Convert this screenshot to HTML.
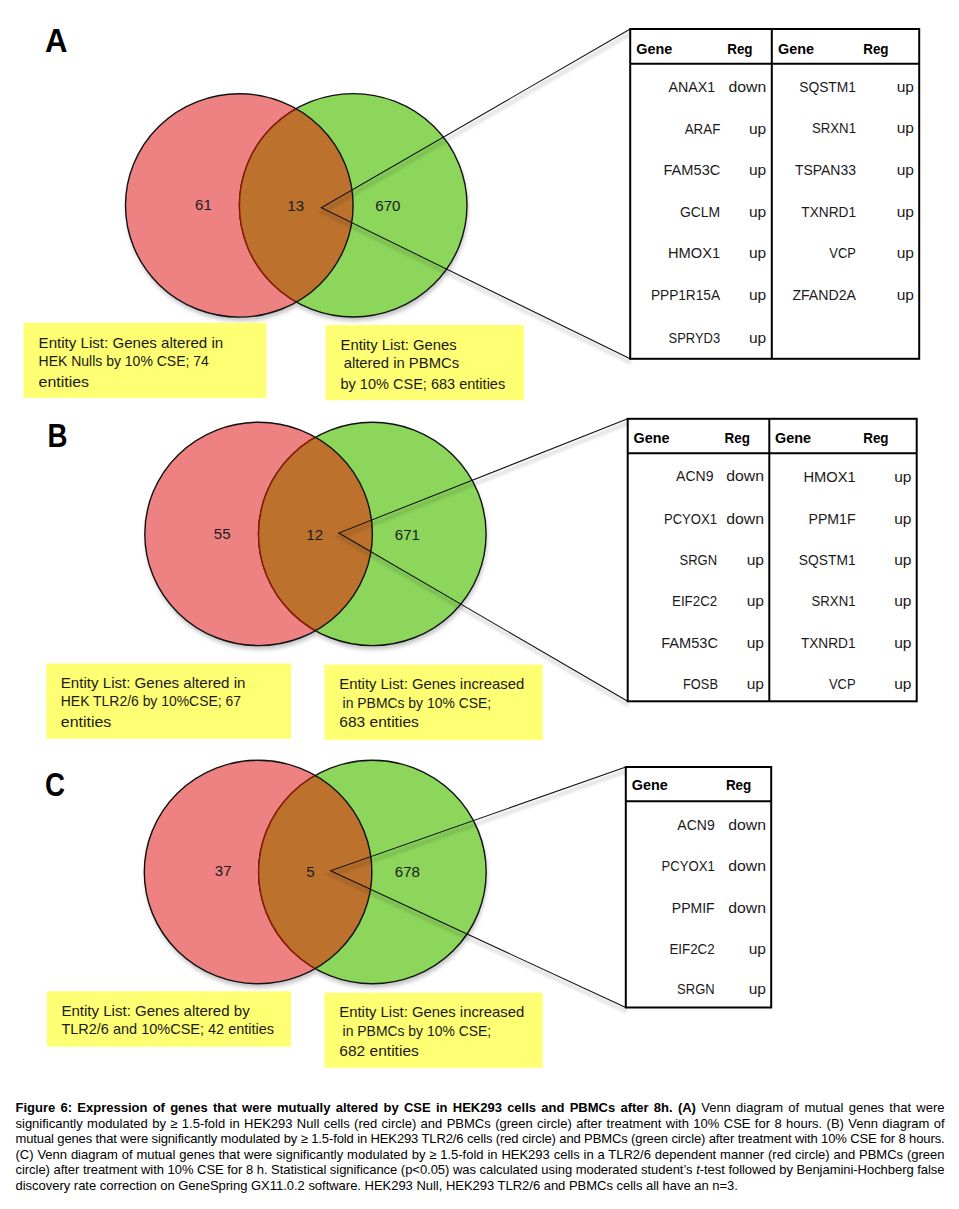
<!DOCTYPE html>
<html><head><meta charset="utf-8"><title>Figure 6</title>
<style>
html,body{margin:0;padding:0;background:#fff;width:959px;height:1209px;overflow:hidden;}
body{position:relative;font-family:'Liberation Sans', sans-serif;}
svg{position:absolute;left:0;top:0;}
svg text{font-family:'Liberation Sans', sans-serif;}
#cap{position:absolute;left:15.5px;top:1100px;width:929px;font-size:13px;line-height:15.6px;color:#000;}
#cap div{white-space:nowrap;}
#cap div.j{text-align:justify;text-align-last:justify;white-space:normal;height:15.6px;overflow:visible;}
</style></head><body>
<svg width="959" height="1209" viewBox="0 0 959 1209">
<defs>
<filter id="blur" x="-10%" y="-10%" width="120%" height="130%"><feGaussianBlur stdDeviation="2"/></filter>
<filter id="blur1" x="-10%" y="-10%" width="120%" height="130%"><feGaussianBlur stdDeviation="1.2"/></filter>
<clipPath id="cr0"><ellipse cx="239.3" cy="205.4" rx="113.8" ry="111.7"/></clipPath>
<clipPath id="cr1"><ellipse cx="258.6" cy="533.9" rx="113.8" ry="111.7"/></clipPath>
<clipPath id="cr2"><ellipse cx="258.1" cy="872.0" rx="113.8" ry="111.7"/></clipPath>
</defs>
<g filter="url(#blur)" opacity="0.5">
<ellipse cx="240.3" cy="209.4" rx="113.8" ry="111.7" fill="#888"/>
<ellipse cx="354.2" cy="209.3" rx="113.8" ry="111.7" fill="#888"/>
</g>
<ellipse cx="239.3" cy="205.4" rx="113.8" ry="111.7" fill="#EE8282"/>
<ellipse cx="353.2" cy="205.3" rx="113.8" ry="111.7" fill="#8CD65C" stroke="#111" stroke-width="1.4"/>
<ellipse cx="353.2" cy="205.3" rx="113.8" ry="111.7" fill="#BC722C" stroke="#8a1c04" stroke-width="1.5" clip-path="url(#cr0)"/>
<ellipse cx="239.3" cy="205.4" rx="113.8" ry="111.7" fill="none" stroke="#111" stroke-width="1.4"/>
<polyline points="630.2,29.0 321.3,207.8 630.2,358.8" fill="none" stroke="#000" stroke-width="5" opacity="0.09" filter="url(#blur1)" transform="translate(1,4)"/>
<polyline points="630.2,29.0 321.3,207.8 630.2,358.8" fill="none" stroke="#111" stroke-width="1.05"/>
<text x="44.9" y="52.0" font-size="32.70" text-anchor="start" font-weight="bold" fill="#000" textLength="22.5" lengthAdjust="spacingAndGlyphs">A</text>
<text x="195.1" y="210.0" font-size="14.80" text-anchor="start" font-weight="normal" fill="#1a1a1a" textLength="16.8" lengthAdjust="spacingAndGlyphs">61</text>
<text x="287.3" y="210.6" font-size="14.80" text-anchor="start" font-weight="normal" fill="#1a1a1a" textLength="16.8" lengthAdjust="spacingAndGlyphs">13</text>
<text x="375.3" y="210.5" font-size="14.80" text-anchor="start" font-weight="normal" fill="#1a1a1a" textLength="25.2" lengthAdjust="spacingAndGlyphs">670</text>
<g filter="url(#blur)" opacity="0.5">
<ellipse cx="259.6" cy="537.9" rx="113.8" ry="111.7" fill="#888"/>
<ellipse cx="373.3" cy="537.9" rx="113.8" ry="111.7" fill="#888"/>
</g>
<ellipse cx="258.6" cy="533.9" rx="113.8" ry="111.7" fill="#EE8282"/>
<ellipse cx="372.3" cy="533.9" rx="113.8" ry="111.7" fill="#8CD65C" stroke="#111" stroke-width="1.4"/>
<ellipse cx="372.3" cy="533.9" rx="113.8" ry="111.7" fill="#BC722C" stroke="#8a1c04" stroke-width="1.5" clip-path="url(#cr1)"/>
<ellipse cx="258.6" cy="533.9" rx="113.8" ry="111.7" fill="none" stroke="#111" stroke-width="1.4"/>
<polyline points="627.7,418.8 338.8,533.0 627.7,701.3" fill="none" stroke="#000" stroke-width="5" opacity="0.09" filter="url(#blur1)" transform="translate(1,4)"/>
<polyline points="627.7,418.8 338.8,533.0 627.7,701.3" fill="none" stroke="#111" stroke-width="1.05"/>
<text x="47.5" y="447.0" font-size="32.70" text-anchor="start" font-weight="bold" fill="#000" textLength="20.0" lengthAdjust="spacingAndGlyphs">B</text>
<text x="213.8" y="538.8" font-size="14.80" text-anchor="start" font-weight="normal" fill="#1a1a1a" textLength="16.8" lengthAdjust="spacingAndGlyphs">55</text>
<text x="306.3" y="540.0" font-size="14.80" text-anchor="start" font-weight="normal" fill="#1a1a1a" textLength="16.8" lengthAdjust="spacingAndGlyphs">12</text>
<text x="394.8" y="540.0" font-size="14.80" text-anchor="start" font-weight="normal" fill="#1a1a1a" textLength="25.2" lengthAdjust="spacingAndGlyphs">671</text>
<g filter="url(#blur)" opacity="0.5">
<ellipse cx="259.1" cy="876.0" rx="113.8" ry="111.7" fill="#888"/>
<ellipse cx="373.4" cy="876.0" rx="113.8" ry="111.7" fill="#888"/>
</g>
<ellipse cx="258.1" cy="872.0" rx="113.8" ry="111.7" fill="#EE8282"/>
<ellipse cx="372.4" cy="872.0" rx="113.8" ry="111.7" fill="#8CD65C" stroke="#111" stroke-width="1.4"/>
<ellipse cx="372.4" cy="872.0" rx="113.8" ry="111.7" fill="#BC722C" stroke="#8a1c04" stroke-width="1.5" clip-path="url(#cr2)"/>
<ellipse cx="258.1" cy="872.0" rx="113.8" ry="111.7" fill="none" stroke="#111" stroke-width="1.4"/>
<polyline points="625.8,767.0 330.5,870.8 625.8,1007.5" fill="none" stroke="#000" stroke-width="5" opacity="0.09" filter="url(#blur1)" transform="translate(1,4)"/>
<polyline points="625.8,767.0 330.5,870.8 625.8,1007.5" fill="none" stroke="#111" stroke-width="1.05"/>
<text x="44.9" y="796.0" font-size="32.70" text-anchor="start" font-weight="bold" fill="#000" textLength="20.0" lengthAdjust="spacingAndGlyphs">C</text>
<text x="214.8" y="876.3" font-size="14.80" text-anchor="start" font-weight="normal" fill="#1a1a1a" textLength="16.8" lengthAdjust="spacingAndGlyphs">37</text>
<text x="306.3" y="877.0" font-size="14.80" text-anchor="start" font-weight="normal" fill="#1a1a1a" textLength="8.4" lengthAdjust="spacingAndGlyphs">5</text>
<text x="394.8" y="877.0" font-size="14.80" text-anchor="start" font-weight="normal" fill="#1a1a1a" textLength="25.2" lengthAdjust="spacingAndGlyphs">678</text>
<rect x="630.2" y="29.0" width="289.0" height="329.8" fill="none" stroke="#000" stroke-width="2"/>
<line x1="630.2" y1="63.8" x2="919.2" y2="63.8" stroke="#000" stroke-width="2"/>
<line x1="771.8" y1="29.0" x2="771.8" y2="358.8" stroke="#000" stroke-width="2"/>
<text x="636.2" y="53.7" font-size="14.80" text-anchor="start" font-weight="bold" fill="#000" textLength="36.0" lengthAdjust="spacingAndGlyphs">Gene</text>
<text x="727.2" y="53.7" font-size="14.80" text-anchor="start" font-weight="bold" fill="#000" textLength="25.4" lengthAdjust="spacingAndGlyphs">Reg</text>
<text x="778.0" y="53.7" font-size="14.80" text-anchor="start" font-weight="bold" fill="#000" textLength="36.0" lengthAdjust="spacingAndGlyphs">Gene</text>
<text x="863.2" y="53.7" font-size="14.80" text-anchor="start" font-weight="bold" fill="#000" textLength="25.4" lengthAdjust="spacingAndGlyphs">Reg</text>
<text x="715.3" y="91.9" font-size="14.80" text-anchor="end" font-weight="normal" fill="#1a1a1a" textLength="46.7" lengthAdjust="spacingAndGlyphs">ANAX1</text>
<text x="766.2" y="91.9" font-size="14.80" text-anchor="end" font-weight="normal" fill="#1a1a1a" textLength="37.8" lengthAdjust="spacingAndGlyphs">down</text>
<text x="720.3" y="133.9" font-size="14.80" text-anchor="end" font-weight="normal" fill="#1a1a1a" textLength="35.6" lengthAdjust="spacingAndGlyphs">ARAF</text>
<text x="766.2" y="133.9" font-size="14.80" text-anchor="end" font-weight="normal" fill="#1a1a1a" textLength="17.3" lengthAdjust="spacingAndGlyphs">up</text>
<text x="720.3" y="174.5" font-size="14.80" text-anchor="end" font-weight="normal" fill="#1a1a1a" textLength="56.8" lengthAdjust="spacingAndGlyphs">FAM53C</text>
<text x="766.2" y="174.5" font-size="14.80" text-anchor="end" font-weight="normal" fill="#1a1a1a" textLength="17.3" lengthAdjust="spacingAndGlyphs">up</text>
<text x="720.1" y="216.6" font-size="14.80" text-anchor="end" font-weight="normal" fill="#1a1a1a" textLength="40.2" lengthAdjust="spacingAndGlyphs">GCLM</text>
<text x="766.2" y="216.6" font-size="14.80" text-anchor="end" font-weight="normal" fill="#1a1a1a" textLength="17.3" lengthAdjust="spacingAndGlyphs">up</text>
<text x="720.1" y="257.6" font-size="14.80" text-anchor="end" font-weight="normal" fill="#1a1a1a" textLength="52.2" lengthAdjust="spacingAndGlyphs">HMOX1</text>
<text x="766.2" y="257.6" font-size="14.80" text-anchor="end" font-weight="normal" fill="#1a1a1a" textLength="17.3" lengthAdjust="spacingAndGlyphs">up</text>
<text x="720.1" y="299.5" font-size="14.80" text-anchor="end" font-weight="normal" fill="#1a1a1a" textLength="69.2" lengthAdjust="spacingAndGlyphs">PPP1R15A</text>
<text x="766.2" y="299.5" font-size="14.80" text-anchor="end" font-weight="normal" fill="#1a1a1a" textLength="17.3" lengthAdjust="spacingAndGlyphs">up</text>
<text x="720.1" y="343.3" font-size="14.80" text-anchor="end" font-weight="normal" fill="#1a1a1a" textLength="51.6" lengthAdjust="spacingAndGlyphs">SPRYD3</text>
<text x="766.2" y="343.3" font-size="14.80" text-anchor="end" font-weight="normal" fill="#1a1a1a" textLength="17.3" lengthAdjust="spacingAndGlyphs">up</text>
<text x="856.0" y="92.2" font-size="14.80" text-anchor="end" font-weight="normal" fill="#1a1a1a" textLength="56.8" lengthAdjust="spacingAndGlyphs">SQSTM1</text>
<text x="914.0" y="92.2" font-size="14.80" text-anchor="end" font-weight="normal" fill="#1a1a1a" textLength="17.3" lengthAdjust="spacingAndGlyphs">up</text>
<text x="856.0" y="133.4" font-size="14.80" text-anchor="end" font-weight="normal" fill="#1a1a1a" textLength="44.1" lengthAdjust="spacingAndGlyphs">SRXN1</text>
<text x="914.0" y="133.4" font-size="14.80" text-anchor="end" font-weight="normal" fill="#1a1a1a" textLength="17.3" lengthAdjust="spacingAndGlyphs">up</text>
<text x="856.0" y="174.8" font-size="14.80" text-anchor="end" font-weight="normal" fill="#1a1a1a" textLength="61.1" lengthAdjust="spacingAndGlyphs">TSPAN33</text>
<text x="914.0" y="174.8" font-size="14.80" text-anchor="end" font-weight="normal" fill="#1a1a1a" textLength="17.3" lengthAdjust="spacingAndGlyphs">up</text>
<text x="856.0" y="216.6" font-size="14.80" text-anchor="end" font-weight="normal" fill="#1a1a1a" textLength="54.7" lengthAdjust="spacingAndGlyphs">TXNRD1</text>
<text x="914.0" y="216.6" font-size="14.80" text-anchor="end" font-weight="normal" fill="#1a1a1a" textLength="17.3" lengthAdjust="spacingAndGlyphs">up</text>
<text x="856.0" y="257.6" font-size="14.80" text-anchor="end" font-weight="normal" fill="#1a1a1a" textLength="26.7" lengthAdjust="spacingAndGlyphs">VCP</text>
<text x="914.0" y="257.6" font-size="14.80" text-anchor="end" font-weight="normal" fill="#1a1a1a" textLength="17.3" lengthAdjust="spacingAndGlyphs">up</text>
<text x="856.0" y="299.5" font-size="14.80" text-anchor="end" font-weight="normal" fill="#1a1a1a" textLength="63.6" lengthAdjust="spacingAndGlyphs">ZFAND2A</text>
<text x="914.0" y="299.5" font-size="14.80" text-anchor="end" font-weight="normal" fill="#1a1a1a" textLength="17.3" lengthAdjust="spacingAndGlyphs">up</text>
<rect x="627.7" y="418.8" width="289.0" height="282.5" fill="none" stroke="#000" stroke-width="2"/>
<line x1="627.7" y1="453.3" x2="916.7" y2="453.3" stroke="#000" stroke-width="2"/>
<line x1="769.3" y1="418.8" x2="769.3" y2="701.3" stroke="#000" stroke-width="2"/>
<text x="633.5" y="442.9" font-size="14.80" text-anchor="start" font-weight="bold" fill="#000" textLength="36.0" lengthAdjust="spacingAndGlyphs">Gene</text>
<text x="724.6" y="442.9" font-size="14.80" text-anchor="start" font-weight="bold" fill="#000" textLength="25.4" lengthAdjust="spacingAndGlyphs">Reg</text>
<text x="775.0" y="442.9" font-size="14.80" text-anchor="start" font-weight="bold" fill="#000" textLength="36.0" lengthAdjust="spacingAndGlyphs">Gene</text>
<text x="863.2" y="442.9" font-size="14.80" text-anchor="start" font-weight="bold" fill="#000" textLength="25.4" lengthAdjust="spacingAndGlyphs">Reg</text>
<text x="713.5" y="480.7" font-size="14.80" text-anchor="end" font-weight="normal" fill="#1a1a1a" textLength="37.4" lengthAdjust="spacingAndGlyphs">ACN9</text>
<text x="764.0" y="480.7" font-size="14.80" text-anchor="end" font-weight="normal" fill="#1a1a1a" textLength="37.8" lengthAdjust="spacingAndGlyphs">down</text>
<text x="717.1" y="523.9" font-size="14.80" text-anchor="end" font-weight="normal" fill="#1a1a1a" textLength="53.2" lengthAdjust="spacingAndGlyphs">PCYOX1</text>
<text x="764.0" y="523.9" font-size="14.80" text-anchor="end" font-weight="normal" fill="#1a1a1a" textLength="37.8" lengthAdjust="spacingAndGlyphs">down</text>
<text x="717.1" y="564.5" font-size="14.80" text-anchor="end" font-weight="normal" fill="#1a1a1a" textLength="37.6" lengthAdjust="spacingAndGlyphs">SRGN</text>
<text x="764.0" y="564.5" font-size="14.80" text-anchor="end" font-weight="normal" fill="#1a1a1a" textLength="17.3" lengthAdjust="spacingAndGlyphs">up</text>
<text x="717.3" y="606.2" font-size="14.80" text-anchor="end" font-weight="normal" fill="#1a1a1a" textLength="45.3" lengthAdjust="spacingAndGlyphs">EIF2C2</text>
<text x="764.0" y="606.2" font-size="14.80" text-anchor="end" font-weight="normal" fill="#1a1a1a" textLength="17.3" lengthAdjust="spacingAndGlyphs">up</text>
<text x="718.0" y="647.9" font-size="14.80" text-anchor="end" font-weight="normal" fill="#1a1a1a" textLength="56.8" lengthAdjust="spacingAndGlyphs">FAM53C</text>
<text x="764.0" y="647.9" font-size="14.80" text-anchor="end" font-weight="normal" fill="#1a1a1a" textLength="17.3" lengthAdjust="spacingAndGlyphs">up</text>
<text x="718.0" y="689.3" font-size="14.80" text-anchor="end" font-weight="normal" fill="#1a1a1a" textLength="35.0" lengthAdjust="spacingAndGlyphs">FOSB</text>
<text x="764.0" y="689.3" font-size="14.80" text-anchor="end" font-weight="normal" fill="#1a1a1a" textLength="17.3" lengthAdjust="spacingAndGlyphs">up</text>
<text x="855.6" y="482.2" font-size="14.80" text-anchor="end" font-weight="normal" fill="#1a1a1a" textLength="52.2" lengthAdjust="spacingAndGlyphs">HMOX1</text>
<text x="911.5" y="482.2" font-size="14.80" text-anchor="end" font-weight="normal" fill="#1a1a1a" textLength="17.3" lengthAdjust="spacingAndGlyphs">up</text>
<text x="855.6" y="524.0" font-size="14.80" text-anchor="end" font-weight="normal" fill="#1a1a1a" textLength="47.1" lengthAdjust="spacingAndGlyphs">PPM1F</text>
<text x="911.5" y="524.0" font-size="14.80" text-anchor="end" font-weight="normal" fill="#1a1a1a" textLength="17.3" lengthAdjust="spacingAndGlyphs">up</text>
<text x="855.6" y="564.5" font-size="14.80" text-anchor="end" font-weight="normal" fill="#1a1a1a" textLength="56.8" lengthAdjust="spacingAndGlyphs">SQSTM1</text>
<text x="911.5" y="564.5" font-size="14.80" text-anchor="end" font-weight="normal" fill="#1a1a1a" textLength="17.3" lengthAdjust="spacingAndGlyphs">up</text>
<text x="855.6" y="606.2" font-size="14.80" text-anchor="end" font-weight="normal" fill="#1a1a1a" textLength="44.1" lengthAdjust="spacingAndGlyphs">SRXN1</text>
<text x="911.5" y="606.2" font-size="14.80" text-anchor="end" font-weight="normal" fill="#1a1a1a" textLength="17.3" lengthAdjust="spacingAndGlyphs">up</text>
<text x="855.6" y="647.9" font-size="14.80" text-anchor="end" font-weight="normal" fill="#1a1a1a" textLength="54.7" lengthAdjust="spacingAndGlyphs">TXNRD1</text>
<text x="911.5" y="647.9" font-size="14.80" text-anchor="end" font-weight="normal" fill="#1a1a1a" textLength="17.3" lengthAdjust="spacingAndGlyphs">up</text>
<text x="855.6" y="689.3" font-size="14.80" text-anchor="end" font-weight="normal" fill="#1a1a1a" textLength="26.7" lengthAdjust="spacingAndGlyphs">VCP</text>
<text x="911.5" y="689.3" font-size="14.80" text-anchor="end" font-weight="normal" fill="#1a1a1a" textLength="17.3" lengthAdjust="spacingAndGlyphs">up</text>
<rect x="625.8" y="767.0" width="145.4" height="240.5" fill="none" stroke="#000" stroke-width="2"/>
<line x1="625.8" y1="801.3" x2="771.2" y2="801.3" stroke="#000" stroke-width="2"/>
<text x="631.7" y="790.4" font-size="14.80" text-anchor="start" font-weight="bold" fill="#000" textLength="36.0" lengthAdjust="spacingAndGlyphs">Gene</text>
<text x="725.9" y="790.4" font-size="14.80" text-anchor="start" font-weight="bold" fill="#000" textLength="25.4" lengthAdjust="spacingAndGlyphs">Reg</text>
<text x="714.7" y="830.0" font-size="14.80" text-anchor="end" font-weight="normal" fill="#1a1a1a" textLength="37.4" lengthAdjust="spacingAndGlyphs">ACN9</text>
<text x="766.0" y="830.0" font-size="14.80" text-anchor="end" font-weight="normal" fill="#1a1a1a" textLength="37.8" lengthAdjust="spacingAndGlyphs">down</text>
<text x="714.7" y="871.0" font-size="14.80" text-anchor="end" font-weight="normal" fill="#1a1a1a" textLength="53.2" lengthAdjust="spacingAndGlyphs">PCYOX1</text>
<text x="766.0" y="871.0" font-size="14.80" text-anchor="end" font-weight="normal" fill="#1a1a1a" textLength="37.8" lengthAdjust="spacingAndGlyphs">down</text>
<text x="714.7" y="912.5" font-size="14.80" text-anchor="end" font-weight="normal" fill="#1a1a1a" textLength="42.9" lengthAdjust="spacingAndGlyphs">PPMIF</text>
<text x="766.0" y="912.5" font-size="14.80" text-anchor="end" font-weight="normal" fill="#1a1a1a" textLength="37.8" lengthAdjust="spacingAndGlyphs">down</text>
<text x="714.7" y="954.0" font-size="14.80" text-anchor="end" font-weight="normal" fill="#1a1a1a" textLength="45.3" lengthAdjust="spacingAndGlyphs">EIF2C2</text>
<text x="766.0" y="954.0" font-size="14.80" text-anchor="end" font-weight="normal" fill="#1a1a1a" textLength="17.3" lengthAdjust="spacingAndGlyphs">up</text>
<text x="714.7" y="994.4" font-size="14.80" text-anchor="end" font-weight="normal" fill="#1a1a1a" textLength="37.6" lengthAdjust="spacingAndGlyphs">SRGN</text>
<text x="766.0" y="994.4" font-size="14.80" text-anchor="end" font-weight="normal" fill="#1a1a1a" textLength="17.3" lengthAdjust="spacingAndGlyphs">up</text>
<rect x="23.5" y="322.7" width="242.8" height="75.2" fill="#FFFF73"/>
<text x="38.6" y="348.0" font-size="14.80" text-anchor="start" font-weight="normal" fill="#1a1a1a" textLength="184.6" lengthAdjust="spacingAndGlyphs">Entity List: Genes altered in</text>
<text x="38.6" y="366.3" font-size="14.80" text-anchor="start" font-weight="normal" fill="#1a1a1a" textLength="170.2" lengthAdjust="spacingAndGlyphs">HEK Nulls by 10% CSE; 74</text>
<text x="38.6" y="386.6" font-size="14.80" text-anchor="start" font-weight="normal" fill="#1a1a1a" textLength="50.5" lengthAdjust="spacingAndGlyphs">entities</text>
<rect x="325.7" y="324.9" width="198.2" height="75.3" fill="#FFFF73"/>
<text x="340.5" y="350.1" font-size="14.80" text-anchor="start" font-weight="normal" fill="#1a1a1a" textLength="116.2" lengthAdjust="spacingAndGlyphs">Entity List: Genes</text>
<text x="343.7" y="368.3" font-size="14.80" text-anchor="start" font-weight="normal" fill="#1a1a1a" textLength="115.5" lengthAdjust="spacingAndGlyphs">altered in PBMCs</text>
<text x="340.5" y="388.6" font-size="14.80" text-anchor="start" font-weight="normal" fill="#1a1a1a" textLength="164.7" lengthAdjust="spacingAndGlyphs">by 10% CSE; 683 entities</text>
<rect x="46.3" y="663.5" width="244.7" height="75.2" fill="#FFFF73"/>
<text x="60.8" y="688.0" font-size="14.80" text-anchor="start" font-weight="normal" fill="#1a1a1a" textLength="184.6" lengthAdjust="spacingAndGlyphs">Entity List: Genes altered in</text>
<text x="60.8" y="706.3" font-size="14.80" text-anchor="start" font-weight="normal" fill="#1a1a1a" textLength="180.2" lengthAdjust="spacingAndGlyphs">HEK TLR2/6 by 10%CSE; 67</text>
<text x="60.8" y="726.6" font-size="14.80" text-anchor="start" font-weight="normal" fill="#1a1a1a" textLength="50.5" lengthAdjust="spacingAndGlyphs">entities</text>
<rect x="324.5" y="664.6" width="218.2" height="75.4" fill="#FFFF73"/>
<text x="339.3" y="688.9" font-size="14.80" text-anchor="start" font-weight="normal" fill="#1a1a1a" textLength="185.0" lengthAdjust="spacingAndGlyphs">Entity List: Genes increased</text>
<text x="342.6" y="707.7" font-size="14.80" text-anchor="start" font-weight="normal" fill="#1a1a1a" textLength="148.6" lengthAdjust="spacingAndGlyphs">in PBMCs by 10% CSE;</text>
<text x="339.3" y="727.4" font-size="14.80" text-anchor="start" font-weight="normal" fill="#1a1a1a" textLength="79.5" lengthAdjust="spacingAndGlyphs">683 entities</text>
<rect x="46.9" y="991.3" width="244.1" height="55.4" fill="#FFFF73"/>
<text x="61.4" y="1016.0" font-size="14.80" text-anchor="start" font-weight="normal" fill="#1a1a1a" textLength="188.3" lengthAdjust="spacingAndGlyphs">Entity List: Genes altered by</text>
<text x="61.4" y="1034.0" font-size="14.80" text-anchor="start" font-weight="normal" fill="#1a1a1a" textLength="212.7" lengthAdjust="spacingAndGlyphs">TLR2/6 and 10%CSE; 42 entities</text>
<rect x="324.5" y="992.7" width="218.2" height="75.1" fill="#FFFF73"/>
<text x="339.3" y="1016.6" font-size="14.80" text-anchor="start" font-weight="normal" fill="#1a1a1a" textLength="185.0" lengthAdjust="spacingAndGlyphs">Entity List: Genes increased</text>
<text x="342.6" y="1035.5" font-size="14.80" text-anchor="start" font-weight="normal" fill="#1a1a1a" textLength="148.6" lengthAdjust="spacingAndGlyphs">in PBMCs by 10% CSE;</text>
<text x="339.3" y="1055.5" font-size="14.80" text-anchor="start" font-weight="normal" fill="#1a1a1a" textLength="79.5" lengthAdjust="spacingAndGlyphs">682 entities</text>
</svg>
<div id="cap">
<div class="j" style="letter-spacing:0px"><b>Figure 6: Expression of genes that were mutually altered by CSE in HEK293 cells and PBMCs after 8h. (A)</b> Venn diagram of mutual genes that were</div>
<div class="j" style="letter-spacing:0px">significantly modulated by ≥ 1.5-fold in HEK293 Null cells (red circle) and PBMCs (green circle) after treatment with 10% CSE for 8 hours. (B) Venn diagram of</div>
<div class="j" style="letter-spacing:-0.125px">mutual genes that were significantly modulated by ≥ 1.5-fold in HEK293 TLR2/6 cells (red circle) and PBMCs (green circle) after treatment with 10% CSE for 8 hours.</div>
<div class="j" style="letter-spacing:0px">(C) Venn diagram of mutual genes that were significantly modulated by ≥ 1.5-fold in HEK293 cells in a TLR2/6 dependent manner (red circle) and PBMCs (green</div>
<div class="j" style="letter-spacing:-0.04px">circle) after treatment with 10% CSE for 8 h. Statistical significance (p&lt;0.05) was calculated using moderated student’s <i>t</i>-test followed by Benjamini-Hochberg false</div>
<div class="last" style="letter-spacing:-0.02px">discovery rate correction on GeneSpring GX11.0.2 software. HEK293 Null, HEK293 TLR2/6 and PBMCs cells all have an n=3.</div>
</div>
</body></html>
